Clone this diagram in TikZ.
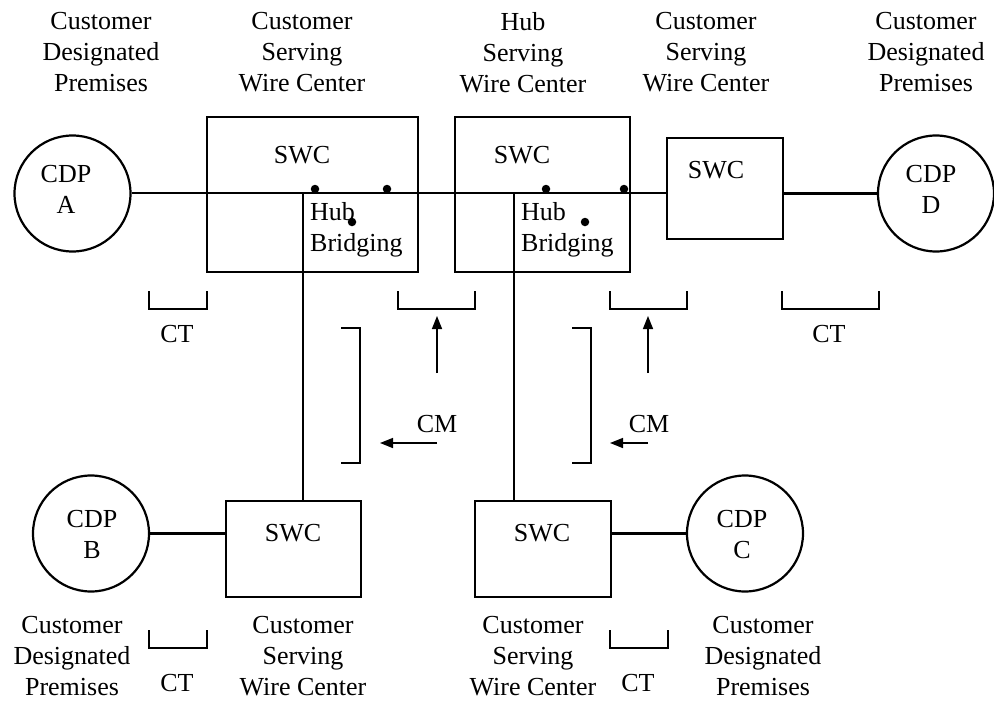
\documentclass[tikz,border=0pt]{standalone}
\usepackage{fontspec}
\setmainfont{Liberation Serif}
\usetikzlibrary{arrows.meta}
\begin{document}
\begin{tikzpicture}[x=1pt,y=-1pt,
  lbl/.style={align=center,font=\fontsize{26}{31}\selectfont,inner sep=0pt,anchor=north},
  txt/.style={font=\fontsize{26}{31}\selectfont,inner sep=0pt,anchor=base},
  cdp/.style={circle,draw,line width=2.2pt,minimum size=116pt,inner sep=0pt},
  box/.style={draw,line width=2.2pt,inner sep=0pt},
  thickln/.style={line width=2.8pt},
  hubln/.style={line width=1.7pt},
  vln/.style={line width=2.2pt},
  brk/.style={line width=2.2pt},
  arr/.style={line width=1.5pt,-{Triangle[length=13pt,width=10pt]}},
  dot/.style={circle,fill=black,inner sep=0pt,minimum size=8.5pt}]
\useasboundingbox (0,0) rectangle (994,702);

% top labels
\node[lbl] (tl1) at (101,12) {Customer\\Designated\\Premises};
\node[lbl] (tl2) at (302,12) {Customer\\Serving\\Wire Center};
\node[lbl] (tl3) at (523,12) {Hub\\Serving\\Wire Center};
\node[lbl] (tl4) at (706,12) {Customer\\Serving\\Wire Center};
\node[lbl] (tl5) at (926,12) {Customer\\Designated\\Premises};

% circles
\node[cdp] (cdpA) at (72.5,193.5) {};
\node[cdp] (cdpD) at (936,193.5) {};
\node[cdp] (cdpB) at (91,533.5) {};
\node[cdp] (cdpC) at (745,533.5) {};
\node[lbl] (tA) at (66,165.5) {CDP\\A};
\node[lbl] (tD) at (931,165.5) {CDP\\D};
\node[lbl] (tB) at (92,510.5) {CDP\\B};
\node[lbl] (tC) at (742,510.5) {CDP\\C};

% boxes
\node[box,minimum width=211pt,minimum height=155pt] (box1) at (312.5,194.5) {};
\node[box,minimum width=175pt,minimum height=155pt] (box2) at (542.5,194.5) {};
\node[box,minimum width=116pt,minimum height=101pt] (box3) at (725,188.5) {};
\node[box,minimum width=135pt,minimum height=96pt] (boxB) at (293.5,549) {};
\node[box,minimum width=136pt,minimum height=96pt] (boxC) at (543,549) {};

\node[txt] (s1) at (302,163) {SWC};
\node[txt] (s2) at (522,163) {SWC};
\node[txt] (s3) at (716,178) {SWC};
\node[txt] (sB) at (293,541) {SWC};
\node[txt] (sC) at (542,541) {SWC};

\node[lbl,anchor=north west,align=left] (hb1) at (310,202) {Hub\\Bridging};
\node[lbl,anchor=north west,align=left] (hb2) at (521,202) {Hub\\Bridging};

% hub line
\coordinate (hubL) at (226,193);
\coordinate (v1) at (303,193);
\coordinate (v2) at (514,193);
\draw[thickln] (cdpA.east |- hubL) -- (hubL);
\draw[hubln] (box1.west |- hubL) -- (box3.west |- hubL);
\draw[thickln] (box3.east |- cdpD) -- (cdpD.west);
\draw[vln] (v1) -- (v1 |- boxB.north);
\draw[vln] (v2) -- (v2 |- boxC.north);
\draw[thickln] (cdpB.east) -- (cdpB.east -| boxB.west);
\draw[thickln] (boxC.east |- cdpC) -- (cdpC.west);

% dots
\node[dot] (d1) at (315,189) {};
\node[dot] (d2) at (387,189) {};
\node[dot] (d3) at (352,222) {};
\node[dot] (d4) at (546,189) {};
\node[dot] (d5) at (624,189) {};
\node[dot] (d6) at (585,222) {};

% CT brackets
\draw[brk] (149,291) -- (149,309) -- (207,309) -- (207,291);
\draw[brk] (398,291) -- (398,309) -- (475,309) -- (475,291);
\draw[brk] (610,291) -- (610,309) -- (687,309) -- (687,291);
\draw[brk] (782,291) -- (782,309) -- (879,309) -- (879,291);
\draw[brk] (149,630) -- (149,648) -- (207,648) -- (207,630);
\draw[brk] (610,630) -- (610,648) -- (668,648) -- (668,630);
\node[txt] (ct1) at (177,342) {CT};
\node[txt] (ct2) at (829,342) {CT};
\node[txt] (ct3) at (177,691) {CT};
\node[txt] (ct4) at (638,691) {CT};

% CM brackets and arrows
\draw[brk] (341,328) -- (360,328) -- (360,463) -- (341,463);
\draw[brk] (572,328) -- (591,328) -- (591,463) -- (572,463);
\node[txt] (cm1) at (437,432) {CM};
\node[txt] (cm2) at (649,432) {CM};
\coordinate (a1s) at (437,373); \coordinate (a1e) at (437,316);
\coordinate (a2s) at (437,443); \coordinate (a2e) at (380,443);
\coordinate (a3s) at (648,373); \coordinate (a3e) at (648,316);
\coordinate (a4s) at (648,443); \coordinate (a4e) at (610,443);
\draw[arr] (a1s) -- (a1e);
\draw[arr] (a2s) -- (a2e);
\draw[arr] (a3s) -- (a3e);
\draw[arr] (a4s) -- (a4e);

% bottom labels
\node[lbl] (bl1) at (72,616.5) {Customer\\Designated\\Premises};
\node[lbl] (bl2) at (303,616.5) {Customer\\Serving\\Wire Center};
\node[lbl] (bl3) at (533,616.5) {Customer\\Serving\\Wire Center};
\node[lbl] (bl4) at (763,616.5) {Customer\\Designated\\Premises};
\end{tikzpicture}
\end{document}
